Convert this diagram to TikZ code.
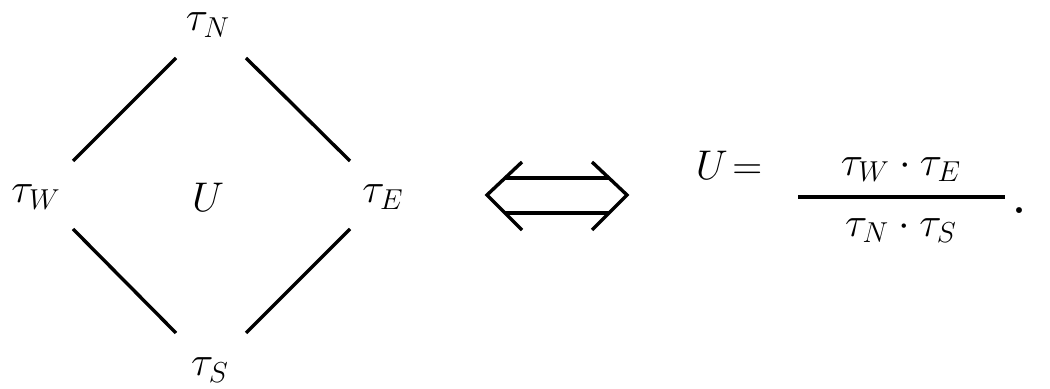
\documentclass[tikz,border=0pt]{standalone}
\begin{document}
\begin{tikzpicture}[x=0.5pt,y=-0.5pt,
  lbl/.style={inner sep=0pt, font=\fontsize{20.74}{25}\selectfont},
  edge/.style={line width=1.7pt}]
\useasboundingbox (0,0) rectangle (1050,389);
% diamond labels
\node[lbl] (tN) at (208,25) {$\tau_N$};
\node[lbl] (tW) at (36,197) {$\tau_W$};
\node[lbl] (tE) at (383,197) {$\tau_E$};
\node[lbl] (tS) at (210,370) {$\tau_S$};
\node[lbl] (U) at (208,197) {$U$};
% diamond edges
\coordinate (nw1) at (176,58);  \coordinate (nw2) at (73,161);
\coordinate (ne1) at (246,58);  \coordinate (ne2) at (350,161);
\coordinate (sw1) at (73,229);  \coordinate (sw2) at (176,333);
\coordinate (se1) at (246,333); \coordinate (se2) at (350,229);
\draw[edge] (nw1) -- (nw2);
\draw[edge] (ne1) -- (ne2);
\draw[edge] (sw1) -- (sw2);
\draw[edge] (se1) -- (se2);
% double arrow
\coordinate (lt) at (487,195); \coordinate (lu) at (522,162); \coordinate (ll) at (522,230);
\coordinate (rt) at (627,195); \coordinate (ru) at (592,162); \coordinate (rl) at (592,230);
\coordinate (h1a) at (505,178); \coordinate (h1b) at (609,178);
\coordinate (h2a) at (505,213); \coordinate (h2b) at (609,213);
\draw[edge] (lu) -- (lt) -- (ll);
\draw[edge] (ru) -- (rt) -- (rl);
\draw[edge] (h1a) -- (h1b);
\draw[edge] (h2a) -- (h2b);
% formula
\node[lbl] (Ueq) at (729,165) {$U\!=$};
\node[lbl] (num) at (901,169) {$\tau_W\cdot\tau_E$};
\node[lbl] (den) at (901,230) {$\tau_N\cdot\tau_S$};
\coordinate (bar1) at (798,197); \coordinate (bar2) at (1005,197);
\draw[edge] (bar1) -- (bar2);
\node[inner sep=0pt, font=\fontsize{36}{40}\selectfont, anchor=base] (dot) at (1019,214) {.};
\end{tikzpicture}
\end{document}
